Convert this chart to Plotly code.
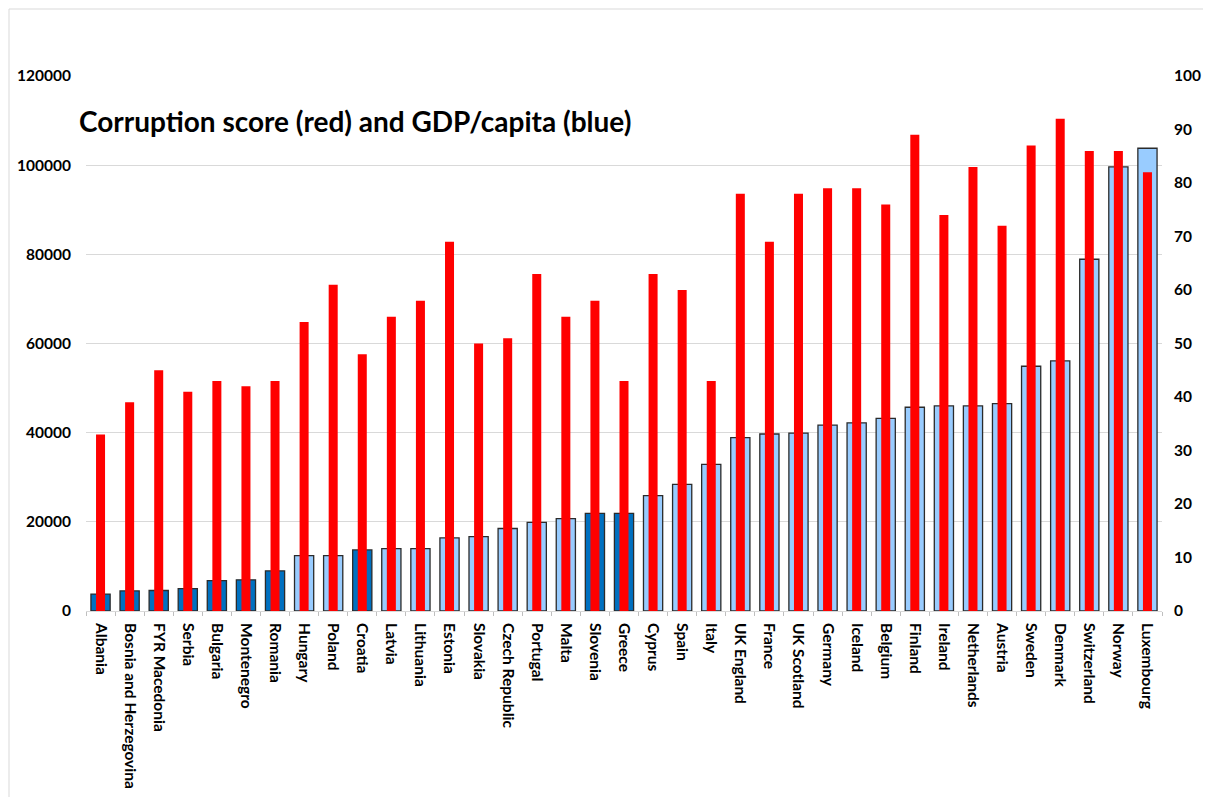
import plotly.graph_objects as go

# data
countries = [
    'Albania', 'Bosnia and Herzegovina', 'FYR Macedonia', 'Serbia', 'Bulgaria',
    'Montenegro', 'Romania', 'Hungary', 'Poland', 'Croatia', 'Latvia',
    'Lithuania', 'Estonia', 'Slovakia', 'Czech Republic', 'Portugal', 'Malta',
    'Slovenia', 'Greece', 'Cyprus', 'Spain', 'Italy', 'UK England', 'France',
    'UK Scotland', 'Germany', 'Iceland', 'Belgium', 'Finland', 'Ireland',
    'Netherlands', 'Austria', 'Sweden', 'Denmark', 'Switzerland', 'Norway',
    'Luxembourg'
]
gdp_per_capita = [
    3800, 4500, 4600, 5000, 6800, 7000, 9000, 12400, 12400, 13700, 14000,
    14000, 16400, 16700, 18500, 19900, 20700, 21900, 21900, 25900, 28400,
    32900, 38900, 39700, 39900, 41700, 42200, 43200, 45700, 46000, 46000,
    46500, 54900, 56100, 78900, 99600, 103800
]
corruption_score = [
    33, 39, 45, 41, 43, 42, 43, 54, 61, 48, 55, 58, 69, 50, 51, 63, 55, 58,
    43, 63, 60, 43, 78, 69, 78, 79, 79, 76, 89, 74, 83, 72, 87, 92, 86, 86, 82
]
# countries whose GDP bar is drawn in the darker blue
dark_group = ['Albania', 'Bosnia and Herzegovina', 'FYR Macedonia', 'Serbia',
              'Bulgaria', 'Montenegro', 'Romania', 'Croatia', 'Slovenia', 'Greece']

left_ticks = [0, 20000, 40000, 60000, 80000, 100000, 120000]
right_ticks = list(range(0, 101, 10))

FONT = 'Lato, Calibri, sans-serif'
# the page body adds an 8px margin all round, so keep the figure inside the window
W, H = 1195, 789
L, R, T, B = 78, 41, 68, 186

blue_colors = ['#0070C0' if c in dark_group else '#99CCFF' for c in countries]

fig = go.Figure()

fig.add_trace(go.Bar(
    x=countries,
    y=gdp_per_capita,
    width=0.66,
    marker=dict(color=blue_colors, line=dict(color='#2b2b2b', width=1.3)),
    name='GDP/capita',
    yaxis='y'
))

fig.add_trace(go.Bar(
    x=countries,
    y=corruption_score,
    width=0.31,
    marker=dict(color='#FF0000', line=dict(width=0)),
    name='Corruption score',
    yaxis='y2'
))

pw = W - L - R
ph = H - T - B

# chart-area border: only the left and top edges show in the picture
bx = (1 - L) / pw
by = 1 + (T - 1) / ph
border = dict(color='#d9d9d9', width=1)

fig.update_layout(
    width=W,
    height=H,
    margin=dict(l=L, r=R, t=T, b=B, autoexpand=False),
    paper_bgcolor='white',
    plot_bgcolor='white',
    barmode='overlay',
    showlegend=False,
    font=dict(family=FONT, size=15, color='black'),
    xaxis=dict(
        type='category',
        range=[-0.5, len(countries) - 0.5],
        tickangle=90,
        tickfont=dict(family=FONT, size=15.5, color='black', weight='bold'),
        showline=True,
        linecolor='#d9d9d9',
        linewidth=1,
        ticks='outside',
        tickson='boundaries',
        ticklen=4,
        tickcolor='#bfbfbf',
        ticklabelstandoff=8,
        showgrid=False,
        automargin=False,
    ),
    yaxis=dict(
        range=[0, 120000],
        tickvals=left_ticks,
        tickformat='d',
        tickfont=dict(family=FONT, size=15.5, color='black', weight='bold'),
        showgrid=True,
        gridcolor='#d9d9d9',
        gridwidth=1,
        zeroline=False,
        showline=False,
        ticklabelstandoff=14,
        automargin=False,
    ),
    yaxis2=dict(
        range=[0, 100],
        tickvals=right_ticks,
        overlaying='y',
        side='right',
        tickfont=dict(family=FONT, size=15.5, color='black', weight='bold'),
        showgrid=False,
        zeroline=False,
        showline=False,
        ticklabelstandoff=11,
        automargin=False,
    ),
    annotations=[dict(
        text='Corruption score (red) and GDP/capita (blue)',
        xref='paper', yref='paper',
        x=(69 - L) / pw, y=1 - (113 - T) / ph,
        xanchor='left', yanchor='middle',
        showarrow=False,
        font=dict(family=FONT, size=28, color='black', weight='bold'),
    )],
    shapes=[
        dict(type='line', xref='paper', yref='paper',
             x0=bx, x1=bx, y0=-(H - T - ph) / ph, y1=by, line=border),
        dict(type='line', xref='paper', yref='paper',
             x0=bx, x1=(W - L) / pw, y0=by, y1=by, line=border),
    ],
)

fig.write_html("out.html")
